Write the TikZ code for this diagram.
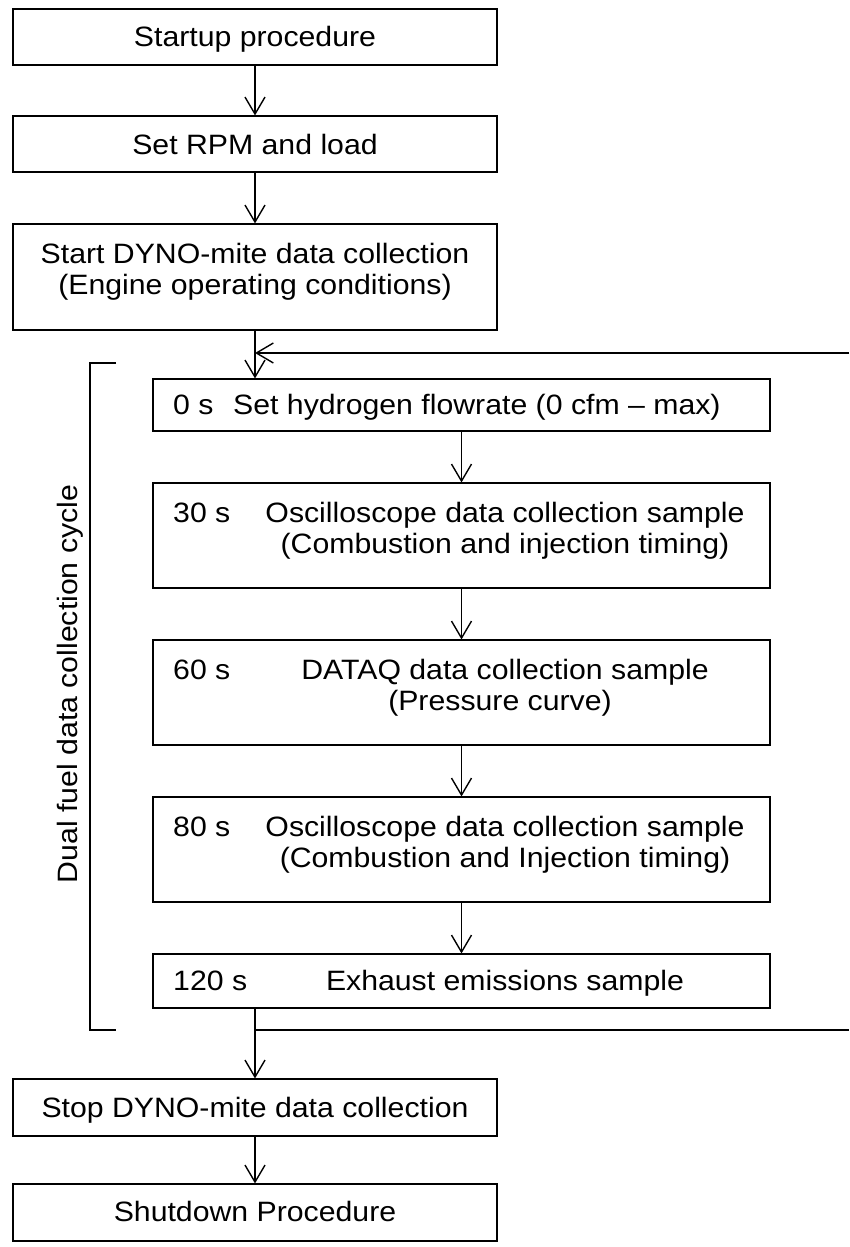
\documentclass[tikz,border=0pt]{standalone}
\usepackage{fontspec}
\setmainfont{Liberation Sans}[FakeStretch=1.08]
\usetikzlibrary{arrows.meta}
\begin{document}
\begin{tikzpicture}[x=1pt,y=-1pt,
  box/.style={draw, line width=1.1pt, inner sep=0pt},
  mainbox/.style={box, minimum width=484pt},
  cycbox/.style={box, minimum width=617pt},
  txt/.style={anchor=base, inner sep=0pt, font=\fontsize{28pt}{31pt}\selectfont},
  ltxt/.style={txt, anchor=base west},
  arr/.style={line width=1.4pt, -{Straight Barb[length=17pt,width=20pt,line width=1.4pt]}},
  conn/.style={line width=1.4pt}]
\useasboundingbox (0,0) rectangle (849,1247);
% main column
\node[mainbox, minimum height=56pt] (b1) at (255,37) {};
\node[mainbox, minimum height=56pt] (b2) at (255,144) {};
\node[mainbox, minimum height=106pt] (b3) at (255,277) {};
\node[mainbox, minimum height=57pt] (stop) at (255,1107.5) {};
\node[mainbox, minimum height=57pt] (shut) at (255,1212.5) {};
% cycle column
\node[cycbox, minimum height=52pt] (b4) at (461.5,405) {};
\node[cycbox, minimum height=105pt] (b5) at (461.5,535.5) {};
\node[cycbox, minimum height=105pt] (b6) at (461.5,692.5) {};
\node[cycbox, minimum height=105pt] (b7) at (461.5,849.5) {};
\node[cycbox, minimum height=54pt] (b8) at (461.5,981) {};
% texts main
\node[txt] (t1) at (255,47) {Startup procedure};
\node[txt] (t2) at (255,154) {Set RPM and load};
\node[txt] (t3a) at (255,263) {Start DYNO-mite data collection};
\node[txt] (t3b) at (255,294) {(Engine operating conditions)};
\node[txt] (t9) at (255,1117) {Stop DYNO-mite data collection};
\node[txt] (t10) at (255,1221) {Shutdown Procedure};
% texts cycle
\node[ltxt] (s4) at (173,414) {0 s};
\node[ltxt] (d4) at (233,414) {Set hydrogen flowrate (0 cfm -- max)};
\node[ltxt] (s5) at (173,522) {30 s};
\node[txt] (d5a) at (505,522) {Oscilloscope data collection sample};
\node[txt] (d5b) at (505,553) {(Combustion and injection timing)};
\node[ltxt] (s6) at (173,679) {60 s};
\node[txt] (d6a) at (505,679) {DATAQ data collection sample};
\node[txt] (d6b) at (500,710) {(Pressure curve)};
\node[ltxt] (s7) at (173,836) {80 s};
\node[txt] (d7a) at (505,836) {Oscilloscope data collection sample};
\node[txt] (d7b) at (505,867) {(Combustion and Injection timing)};
\node[ltxt] (s8) at (173,990) {120 s};
\node[txt] (d8) at (505,990) {Exhaust emissions sample};
% bracket and label
\coordinate (bt) at (116,363);
\coordinate (bb) at (116,1030);
\draw[line width=1.7pt] (bt) -- (90,363) -- (90,1030) -- (bb);
\node[rotate=90, inner sep=0pt, font=\fontsize{28pt}{31pt}\selectfont] (lbl) at (70,684) {Dual fuel data collection cycle};
% connectors
\draw[arr] (b1.south) -- (b2.north);
\draw[arr] (b2.south) -- (b3.north);
\draw[arr] (b3.south) -- (b3.south |- b4.north);
\draw[arr] (b4.south) -- (b5.north);
\draw[arr] (b5.south) -- (b6.north);
\draw[arr] (b6.south) -- (b7.north);
\draw[arr] (b7.south) -- (b8.north);
\draw[arr] (stop.north |- b8.south) -- (stop.north);
\draw[arr] (stop.south) -- (shut.north);
% loop lines
\coordinate (rt) at (849,353);
\coordinate (rb) at (849,1030);
\coordinate (jb) at (stop.north |- rb);
\draw[arr] (rt) -- (rt -| b3.south);
\draw[conn] (jb) -- (rb);
\end{tikzpicture}
\end{document}
